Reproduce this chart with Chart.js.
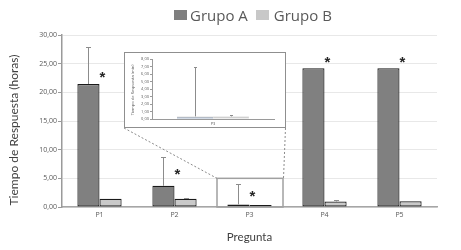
<!DOCTYPE html>
<html><head><meta charset="utf-8">
<script src="https://cdn.jsdelivr.net/npm/chart.js@4.4.1/dist/chart.umd.min.js"></script>
<style>
html,body{margin:0;padding:0;background:#fff;}
#wrap{position:relative;width:461px;height:250px;overflow:hidden;}
#main{position:absolute;left:0;top:0;}
#legend{position:absolute;top:5px;left:174px;font:15px 'Open Sans';color:#595959;display:flex;align-items:center;white-space:nowrap;}
.sw{display:inline-block;width:13px;height:10px;margin-right:3px;}
#inset{position:absolute;left:124px;top:52px;width:160px;height:74px;border:1px solid #8f8f8f;background:#fff;}
#insetCv{position:absolute;left:0;top:0;}
</style></head>
<body>
<div id="wrap">
  <canvas id="main" width="461" height="250"></canvas>
  <div id="legend"><span class="sw" style="background:#7f7f7f"></span><span>Grupo A</span><span class="sw" style="background:#c8c8c8;margin-left:8px;margin-right:5px"></span><span>Grupo B</span></div>
  <div id="inset"><canvas id="insetCv" width="160" height="74"></canvas></div>
</div>
<script>
// ---- data ----
const categories = ['P1', 'P2', 'P3', 'P4', 'P5'];
const grupoA = [21.45, 3.7, 0.45, 24.2, 24.2];
const grupoB = [1.45, 1.45, 0.35, 0.95, 1.0];
const errTopA = [27.9, 8.7, 4.0, null, null];
const errTopB = [null, 1.6, null, 1.3, null];
const starLevel = [23.2, 6.3, 2.6, 25.9, 25.9];
const yTickValues = [0, 5, 10, 15, 20, 25, 30];
const zoomRange = [0, 5];          // region of P3 shown in the inset (hours)

const insetCategories = ['P3'];
const insetA = [0.35];
const insetB = [0.35];
const insetErrTopA = [7.0];
const insetErrTopB = [0.55];
const insetTickValues = [0, 1, 2, 3, 4, 5, 6, 7, 8];

const fmt = v => Number(v).toFixed(2).replace('.', ',');

// ---- plugins ----
const errorBars = {
  id: 'errorBars',
  afterDatasetsDraw(chart, args, opts) {
    const ctx = chart.ctx, ys = chart.scales.y;
    opts.tops.forEach((arr, di) => {
      const meta = chart.getDatasetMeta(di);
      arr.forEach((v, i) => {
        if (v == null) return;
        const bar = meta.data[i];
        const x = Math.round(bar.x) + 0.5;
        const yTop = Math.round(ys.getPixelForValue(v)) + 0.5;
        ctx.save();
        ctx.strokeStyle = opts.color;
        ctx.lineWidth = 1;
        ctx.beginPath();
        ctx.moveTo(x, bar.y); ctx.lineTo(x, yTop);
        ctx.moveTo(x - opts.cap, yTop); ctx.lineTo(x + opts.cap, yTop);
        ctx.stroke();
        ctx.restore();
      });
    });
  }
};

const stars = {
  id: 'stars',
  afterDatasetsDraw(chart, args, opts) {
    if (!opts.levels) return;
    const ctx = chart.ctx, xs = chart.scales.x, ys = chart.scales.y;
    ctx.save();
    ctx.fillStyle = '#262626';
    ctx.font = 'bold 15px "Liberation Sans"';
    ctx.textAlign = 'center';
    ctx.textBaseline = 'alphabetic';
    opts.levels.forEach((v, i) => {
      ctx.fillText('*', xs.getPixelForValue(i) + 3, ys.getPixelForValue(v) + 8.5);
    });
    ctx.restore();
  }
};

const zoomBox = {
  id: 'zoomBox',
  afterDraw(chart, args, opts) {
    if (!opts.enabled) return;
    const ctx = chart.ctx, xs = chart.scales.x, ys = chart.scales.y;
    const cx = xs.getPixelForValue(2);
    const half = (xs.getPixelForValue(1) - xs.getPixelForValue(0)) * 0.44;
    const top = ys.getPixelForValue(zoomRange[1]);
    const bottom = ys.getPixelForValue(zoomRange[0]);
    ctx.save();
    ctx.strokeStyle = '#a0a0a0';
    ctx.lineWidth = 1.5;
    ctx.strokeRect(Math.round(cx - half), top, Math.round(2 * half), bottom - top);
    ctx.lineWidth = 1;
    ctx.strokeStyle = '#8a8a8a';
    ctx.setLineDash([2, 2]);
    ctx.beginPath();
    ctx.moveTo(124, 128); ctx.lineTo(Math.round(cx - half), top);
    ctx.moveTo(285.5, 128); ctx.lineTo(Math.round(cx + half) + 0.5, top);
    ctx.stroke();
    ctx.restore();
  }
};

const yTitle = {
  id: 'yTitle',
  afterDraw(chart, args, opts) {
    if (!opts.text) return;
    const ctx = chart.ctx;
    ctx.save();
    ctx.translate(opts.x, opts.y);
    ctx.rotate(-Math.PI / 2);
    ctx.font = opts.font;
    ctx.fillStyle = opts.color;
    ctx.textAlign = 'center';
    ctx.textBaseline = 'middle';
    ctx.fillText(opts.text, 0, 0);
    ctx.restore();
  }
};

Chart.register(errorBars, stars, zoomBox, yTitle);

// ---- main chart ----
new Chart(document.getElementById('main'), {
  type: 'bar',
  data: {
    labels: categories,
    datasets: [
      { label: 'Grupo A', data: grupoA, backgroundColor: '#808080', borderColor: '#1a1a1a', borderWidth: 1.2, borderSkipped: false },
      { label: 'Grupo B', data: grupoB, backgroundColor: '#c9c9c9', borderColor: '#1a1a1a', borderWidth: 1.2, borderSkipped: false }
    ]
  },
  options: {
    responsive: false,
    animation: false,
    events: [],
    layout: { padding: { top: 35, right: 24, left: 0, bottom: 0 } },
    datasets: { bar: { barPercentage: 1, categoryPercentage: 0.59 } },
    plugins: {
      legend: { display: false },
      tooltip: { enabled: false },
      errorBars: { tops: [errTopA, errTopB], color: '#8c8c8c', cap: 2.5 },
      stars: { levels: starLevel },
      zoomBox: { enabled: true },
      yTitle: { text: 'Tiempo de Respuesta (horas)', x: 14, y: 130, font: '12px Lato', color: '#404040' }
    },
    scales: {
      x: {
        grid: { display: true, drawOnChartArea: false, drawTicks: false },
        border: { color: '#a6a6a6', width: 1.5 },
        ticks: { font: { size: 7, family: 'Open Sans' }, color: '#595959', padding: 4 },
        title: { display: true, text: 'Pregunta', font: { size: 11.5, family: 'Lato' }, color: '#404040', padding: { top: 4, bottom: 6 } },
        afterFit: s => { s.height = 43; }
      },
      y: {
        min: 0, max: 30,
        afterBuildTicks: s => { s.ticks = yTickValues.map(v => ({ value: v })); },
        ticks: { font: { size: 7, family: 'Open Sans' }, color: '#595959', padding: 1, callback: v => fmt(v) },
        grid: { color: '#e8e8e8', tickColor: '#9a9a9a', tickLength: 4 },
        border: { color: '#9a9a9a', width: 1.5 },
        afterFit: s => { s.width = 62; }
      }
    }
  }
});

// ---- inset chart ----
new Chart(document.getElementById('insetCv'), {
  type: 'bar',
  data: {
    labels: insetCategories,
    datasets: [
      { label: 'Grupo A', data: insetA, backgroundColor: '#c3c3c3', borderColor: '#4f6f9a', borderWidth: { top: 0, left: 0, right: 0, bottom: 1.5 }, borderSkipped: false },
      { label: 'Grupo B', data: insetB, backgroundColor: '#d0d0d0', borderColor: '#bdbdbd', borderWidth: 0.5, borderSkipped: false }
    ]
  },
  options: {
    responsive: false,
    animation: false,
    events: [],
    layout: { padding: { top: 6, right: 11, left: 0, bottom: 0 } },
    datasets: { bar: { barPercentage: 1, categoryPercentage: 0.59 } },
    plugins: {
      legend: { display: false },
      tooltip: { enabled: false },
      errorBars: { tops: [insetErrTopA, insetErrTopB], color: '#8c8c8c', cap: 1.5 },
      stars: { levels: null },
      zoomBox: { enabled: false },
      yTitle: { text: 'Tiempo de Respuesta (min)', x: 8, y: 37, font: '4px "Open Sans"', color: '#595959' }
    },
    scales: {
      x: {
        grid: { display: true, drawOnChartArea: false, drawTicks: false },
        border: { color: '#9a9a9a', width: 1 },
        ticks: { font: { size: 4, family: 'Open Sans' }, color: '#595959', padding: 2 },
        afterFit: s => { s.height = 8; }
      },
      y: {
        min: 0, max: 8,
        afterBuildTicks: s => { s.ticks = insetTickValues.map(v => ({ value: v })); },
        ticks: { font: { size: 4, family: 'Open Sans' }, color: '#595959', padding: 1, autoSkip: false, callback: v => fmt(v) },
        grid: { drawOnChartArea: false, tickColor: '#9a9a9a', tickLength: 2 },
        border: { color: '#9a9a9a', width: 1 },
        afterFit: s => { s.width = 27; }
      }
    }
  }
});
</script>
</body></html>
